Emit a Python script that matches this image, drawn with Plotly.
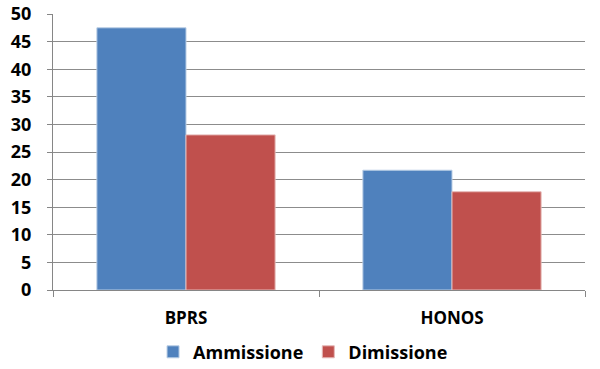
import plotly.graph_objects as go

categories = ["BPRS", "HONOS"]
ammissione = [47.5, 21.7]
dimissione = [28.1, 17.8]
y_ticks = [0, 5, 10, 15, 20, 25, 30, 35, 40, 45, 50]

fig = go.Figure()
fig.add_trace(go.Bar(name="Ammissione", x=categories, y=ammissione,
                     marker=dict(color="#4F81BD", line=dict(color="#B9CDE5", width=1))))
fig.add_trace(go.Bar(name="Dimissione", x=categories, y=dimissione,
                     marker=dict(color="#C0504D", line=dict(color="#E6B9B8", width=1))))

fam = "Open Sans, Liberation Sans, sans-serif"
font = dict(family=fam, size=17, color="#000000", weight="bold")

fig.update_layout(
    width=600, height=369,
    margin=dict(l=53, r=15, t=14, b=79, autoexpand=False),
    paper_bgcolor="white", plot_bgcolor="white",
    barmode="group", bargap=0.33, bargroupgap=0,
    font=font,
    showlegend=True,
    legend=dict(orientation="h", x=0.47, xanchor="center", y=-0.225, yanchor="middle",
                font=dict(family=fam, size=18, color="#000000", weight="bold"),
                traceorder="normal"),
    xaxis=dict(showline=True, linecolor="#868686", linewidth=1, automargin=False,
               ticks="outside", tickson="boundaries", ticklen=6, tickcolor="#868686",
               ticklabelstandoff=13,
               tickfont=dict(size=17, family=fam, weight="bold")),
    yaxis=dict(range=[0, 50], tickvals=y_ticks, showline=True, linecolor="#868686", linewidth=1,
               automargin=False, ticks="outside", ticklen=5, tickcolor="#868686",
               ticklabelstandoff=12,
               showgrid=True, gridcolor="#8C8C8C", gridwidth=1, zeroline=False,
               tickfont=dict(size=18, family=fam, weight="bold")),
)
fig.write_html("out.html", config={"displayModeBar": False},
               post_script="document.body.style.margin='0';document.body.style.overflow='hidden';")
